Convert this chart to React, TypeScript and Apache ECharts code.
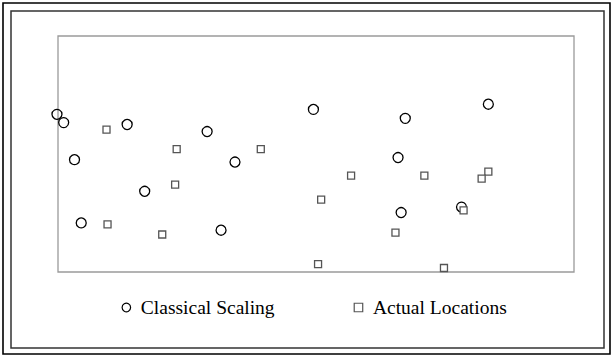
import React, { useEffect, useRef } from "react";
import * as echarts from "echarts";

// Classical scaling (MDS) configuration, in plot units (0-100 on both axes)
const classicalX = [-0.2, 1.1, 13.4, 3.2, 16.8, 4.5, 28.9, 34.3, 31.6, 49.5, 67.3, 65.9, 66.5, 83.4, 78.2];
const classicalY = [66.8, 63.3, 62.5, 47.6, 34.2, 20.8, 59.5, 46.6, 17.7, 68.9, 65.1, 48.5, 25.2, 71.1, 27.5];

// Actual locations
const actualX = [9.4, 9.6, 23.0, 22.7, 20.2, 39.3, 56.8, 71.0, 51.0, 65.4, 50.4, 83.4, 82.1, 78.6, 74.8];
const actualY = [60.3, 20.2, 52.1, 37.0, 15.9, 52.1, 40.8, 40.8, 30.7, 16.7, 3.3, 42.5, 39.6, 26.1, 1.7];

const seriesNames = ["Classical Scaling", "Actual Locations"];
const axisMin = 0;
const axisMax = 100;

const FONT = '"Liberation Serif", "Times New Roman", serif';

export default function App() {
  const ref = useRef<HTMLDivElement>(null);

  useEffect(() => {
    if (!ref.current) return;
    const chart = echarts.init(ref.current, undefined, { renderer: "svg" });
    const classical = classicalX.map((x, i) => [x, classicalY[i]]);
    const actual = actualX.map((x, i) => [x, actualY[i]]);
    chart.setOption({
      animation: false,
      backgroundColor: "#ffffff",
      grid: {
        left: 58,
        top: 36,
        width: 516,
        height: 236,
        show: true,
        borderColor: "#9a9a9a",
        borderWidth: 1.3,
        backgroundColor: "transparent",
      },
      xAxis: {
        type: "value",
        min: axisMin,
        max: axisMax,
        axisLine: { show: false },
        axisTick: { show: false },
        axisLabel: { show: false },
        splitLine: { show: false },
      },
      yAxis: {
        type: "value",
        min: axisMin,
        max: axisMax,
        axisLine: { show: false },
        axisTick: { show: false },
        axisLabel: { show: false },
        splitLine: { show: false },
      },
      legend: {
        left: 116.5,
        top: 292.5,
        itemGap: 79,
        itemWidth: 19,
        itemHeight: 8.5,
        symbolKeepAspect: true,
        textStyle: { fontFamily: FONT, fontSize: 19.5, color: "#000" },
        data: [
          {
            name: seriesNames[0],
            icon: "circle",
            itemStyle: { color: "transparent", borderColor: "#000", borderWidth: 1.2 },
          },
          {
            name: seriesNames[1],
            icon: "path://M0,0L10,0L10,10L0,10Z",
            itemStyle: { color: "#fff", borderColor: "#555", borderWidth: 1.2 },
          },
        ],
      },
      graphic: [
        {
          type: "rect",
          shape: { x: 3, y: 3, width: 607, height: 351 },
          style: { fill: "none", stroke: "#000", lineWidth: 1.6 },
          silent: true,
        },
        {
          type: "rect",
          shape: { x: 11, y: 11, width: 593, height: 337 },
          style: { fill: "none", stroke: "#333", lineWidth: 1.5 },
          silent: true,
        },
      ],
      series: [
        {
          name: seriesNames[0],
          type: "scatter",
          data: classical,
          symbol: "circle",
          symbolSize: 10,
          clip: false,
          z: 2,
          itemStyle: { color: "transparent", borderColor: "#000", borderWidth: 1.3, opacity: 1 },
        },
        {
          name: seriesNames[1],
          type: "scatter",
          data: actual,
          symbol: "rect",
          symbolSize: 7,
          clip: false,
          z: 3,
          itemStyle: { color: "#fff", borderColor: "#555", borderWidth: 1.3, opacity: 1 },
        },
      ],
    });
    return () => chart.dispose();
  }, []);

  return (
    <div
      ref={ref}
      style={{ position: "fixed", left: 0, top: 0, width: 612, height: 356, background: "#fff" }}
    />
  );
}
